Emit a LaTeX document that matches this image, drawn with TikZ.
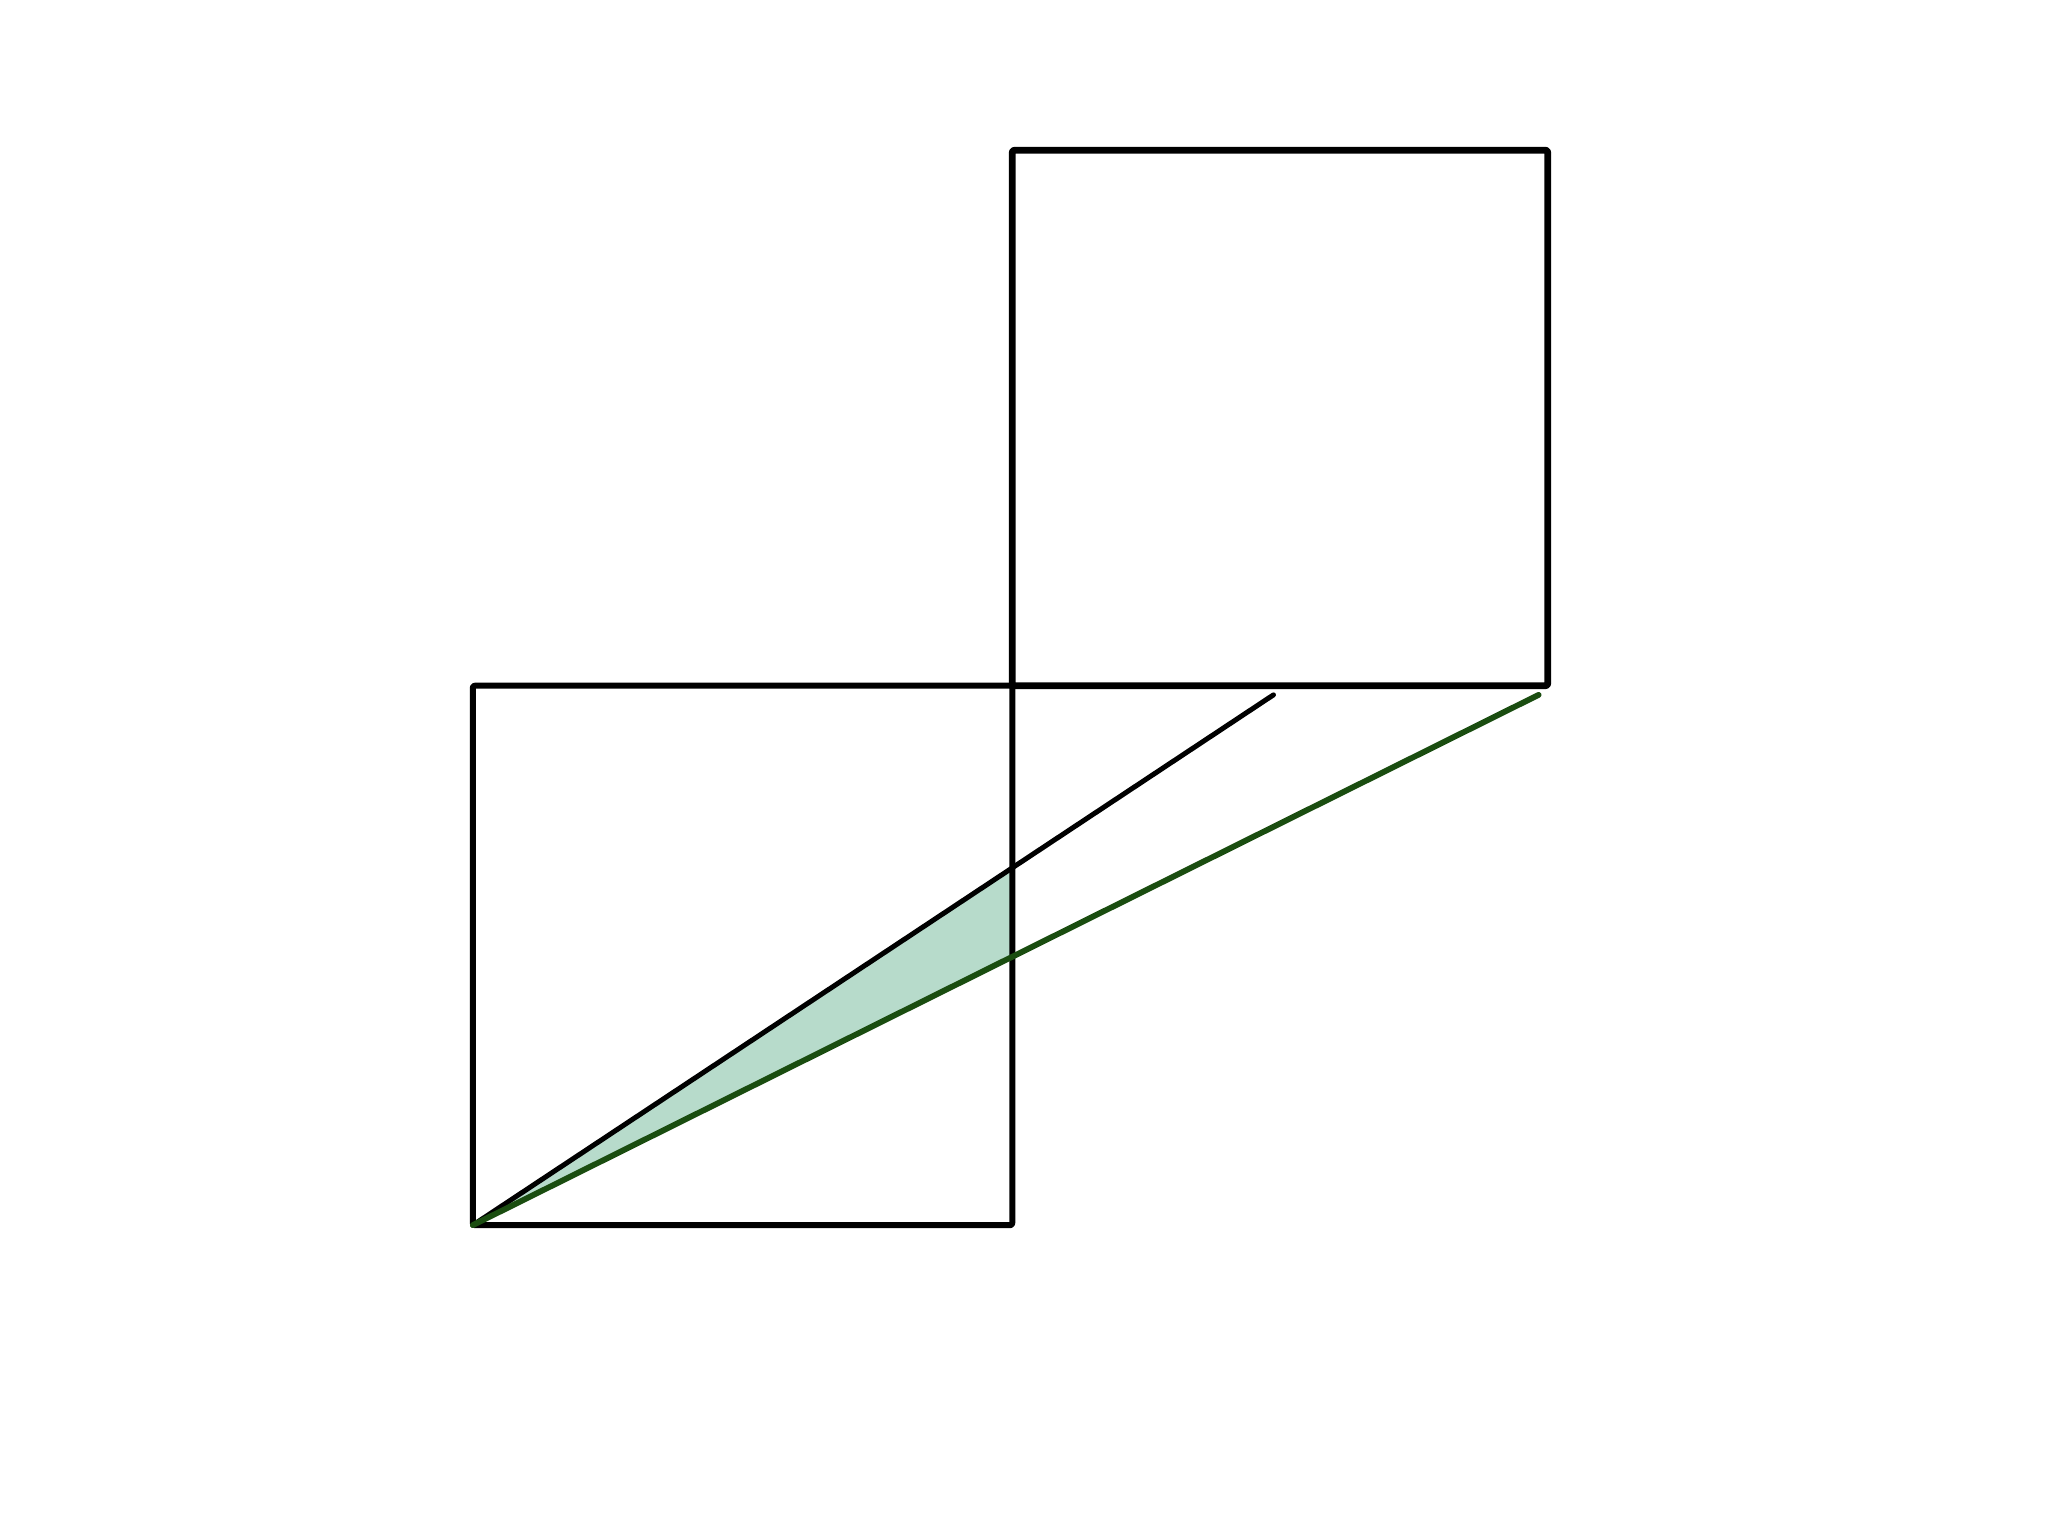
\documentclass[tikz,border=0pt]{standalone}
\definecolor{wedgefill}{HTML}{B7DBCB}
\definecolor{dgreen}{HTML}{1A4D10}
\begin{document}
\begin{tikzpicture}[x=1.30612pt,y=-1.30612pt,
  edge/.style={draw=black,line width=6pt,line join=round,line cap=round,rounded corners=2pt},
  ray/.style={draw=black,line width=5pt,line cap=round},
  greenray/.style={draw=dgreen,line width=5.8pt,line cap=round}]
\useasboundingbox (0,0) rectangle (1568,1176);
% lower square
\coordinate (LA) at (362,938);
\coordinate (LB) at (775,938);
\coordinate (LC) at (775,525);
\coordinate (LD) at (362,525);
% upper square
\coordinate (UA) at (775,525);
\coordinate (UB) at (1185,525);
\coordinate (UC) at (1185,115);
\coordinate (UD) at (775,115);
% ray ends
\coordinate (M) at (975,532);
\coordinate (R) at (1178,532);
% intersections with x=775
\coordinate (P) at (775,664.4);
\coordinate (Q) at (775,732.5);
\fill[wedgefill] (LA) -- (P) -- (Q) -- cycle;
\draw[edge] (LA) -- (LB) -- (LC) -- (LD) -- cycle;
\draw[edge,line width=6.6pt] (UA) -- (UB) -- (UC) -- (UD) -- cycle;
\draw[ray] (LA) -- (M);
\draw[greenray] (LA) -- (R);
\end{tikzpicture}
\end{document}
